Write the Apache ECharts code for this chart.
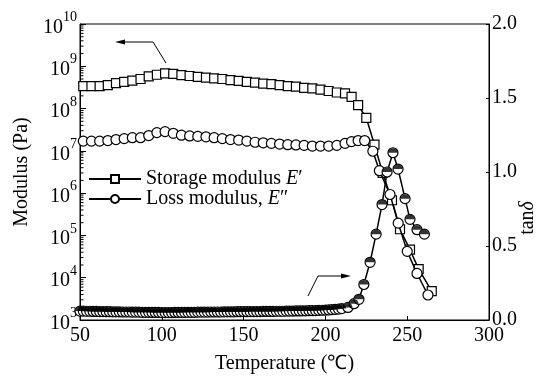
<!DOCTYPE html>
<html>
<head>
<meta charset="utf-8">
<script src="https://cdn.jsdelivr.net/npm/echarts@6/dist/echarts.min.js"></script>
<style>
html, body { margin: 0; background: #fff; }
#chart { width: 546px; height: 379px; }
</style>
</head>
<body>
<div id="chart"></div>
<script>
// storage modulus E' (squares, left log axis)
const storageTemp = [52, 57, 62, 67, 72, 77, 82, 87, 92, 97, 102, 107, 112, 117, 122, 127, 132, 137, 142, 147,
    152, 157, 162, 167, 172, 177, 182, 187, 192, 197, 202, 207, 212, 216, 220, 225, 230, 235, 240.7, 245.6, 251.7, 257, 265];
const storageMod = [3.4e8, 3.4e8, 3.4e8, 3.6e8, 4.0e8, 4.3e8, 4.6e8, 5.0e8, 5.8e8, 6.3e8, 6.8e8, 6.6e8, 6.2e8, 5.9e8, 5.6e8, 5.4e8, 5.2e8, 5.0e8, 4.7e8, 4.5e8,
    4.3e8, 4.1e8, 3.9e8, 3.8e8, 3.6e8, 3.4e8, 3.3e8, 3.1e8, 3.0e8, 2.8e8, 2.6e8, 2.4e8, 2.3e8, 1.9e8, 1.2e8, 6e7, 1.4e7, 3e6, 6.8e5, 1.4e5, 4.6e4, 1.6e4, 4.8e3];

// loss modulus E'' (open circles, left log axis)
const lossTemp = [52, 57, 62, 67, 72, 77, 82, 87, 92, 97, 102, 107, 112, 117, 122, 127, 132, 137, 142, 147,
    152, 157, 162, 167, 172, 177, 182, 187, 192, 197, 202, 207, 212, 216, 220, 224, 229, 233, 239.5, 244.5, 250, 256, 262.7];
const lossMod = [1.7e7, 1.7e7, 1.7e7, 1.75e7, 1.85e7, 1.95e7, 2.05e7, 2.05e7, 2.3e7, 2.7e7, 2.85e7, 2.6e7, 2.35e7, 2.25e7, 2.2e7, 2.15e7, 2.05e7, 1.95e7, 1.85e7, 1.8e7,
    1.7e7, 1.6e7, 1.55e7, 1.5e7, 1.45e7, 1.4e7, 1.38e7, 1.35e7, 1.3e7, 1.3e7, 1.3e7, 1.35e7, 1.5e7, 1.65e7, 1.75e7, 1.75e7, 9.8e6, 3.4e6, 9.3e5, 1.95e5, 4.2e4, 1.26e4, 3.9e3];

// tan delta (half filled circles, right axis)
const tanTemp = [50, 52, 54, 56, 58, 60, 62, 64, 66, 68, 70, 72, 74, 76, 78, 80, 82, 84, 86, 88,
    90, 92, 94, 96, 98, 100, 102, 104, 106, 108, 110, 112, 114, 116, 118, 120, 122, 124, 126, 128,
    130, 132, 134, 136, 138, 140, 142, 144, 146, 148, 150, 152, 154, 156, 158, 160, 162, 164, 166, 168,
    170, 172, 174, 176, 178, 180, 182, 184, 186, 188, 190, 192, 194, 196, 198, 200, 202, 204, 206, 208, 210,
    213.8, 217.5, 220.5, 223.5, 227.3, 231, 234.6, 237.7, 241.3, 244.4, 248.7, 251.7, 256, 260.5];
const tanDelta = [0.060, 0.060, 0.059, 0.059, 0.058, 0.058, 0.057, 0.057, 0.056, 0.056, 0.055, 0.055, 0.055, 0.054, 0.054, 0.054, 0.053, 0.053, 0.053, 0.052,
    0.052, 0.052, 0.051, 0.051, 0.051, 0.050, 0.050, 0.050, 0.050, 0.051, 0.051, 0.051, 0.052, 0.052, 0.052, 0.052, 0.053, 0.053, 0.053, 0.053,
    0.054, 0.054, 0.054, 0.054, 0.055, 0.055, 0.055, 0.055, 0.056, 0.056, 0.056, 0.056, 0.057, 0.057, 0.057, 0.057, 0.058, 0.058, 0.058, 0.058,
    0.059, 0.059, 0.059, 0.060, 0.060, 0.060, 0.061, 0.061, 0.062, 0.062, 0.063, 0.063, 0.064, 0.065, 0.066, 0.067, 0.068, 0.070, 0.072, 0.074, 0.077,
    0.085, 0.11, 0.14, 0.24, 0.39, 0.58, 0.78, 1.0, 1.13, 1.02, 0.82, 0.68, 0.61, 0.58];

const font = "Liberation Serif";
const black = "#000";

function pairs(xs, ys) {
    return xs.map((x, i) => [x, ys[i]]);
}

// minor ticks of the log axis (2..9 in each decade)
const minorTicks = [];
for (let d = 3; d < 10; d++) {
    for (let m = 2; m < 10; m++) {
        minorTicks.push([50, m * Math.pow(10, d)]);
    }
}

const chart = echarts.init(document.getElementById("chart"));
chart.setOption({
    backgroundColor: "#fff",
    animation: false,
    grid: {
        left: 80,
        right: 57,
        top: 24,
        bottom: 55,
        show: true,
        borderColor: black,
        borderWidth: 1
    },
    legend: {
        data: ["Storage modulus E′", "Loss modulus, E″"],
        orient: "vertical",
        left: 88,
        top: 169,
        itemWidth: 52,
        itemHeight: 10,
        itemGap: 0,
        padding: 0,
        textStyle: {
            fontFamily: font,
            fontSize: 20,
            color: black,
            lineHeight: 19,
            rich: {
                i: { fontFamily: font, fontSize: 20, fontStyle: "italic", color: black, lineHeight: 19 }
            }
        },
        formatter: name => name.slice(0, -2) + "{i|E}" + name.slice(-1)
    },
    xAxis: {
        type: "value",
        min: 50,
        max: 300,
        interval: 50,
        name: "Temperature (℃)",
        nameLocation: "middle",
        nameGap: 34,
        nameTextStyle: { fontFamily: font, fontSize: 20, color: black },
        axisLine: { lineStyle: { color: black, width: 1 } },
        axisTick: { inside: true, length: 4, lineStyle: { color: black } },
        axisLabel: { fontFamily: font, fontSize: 20, color: black, margin: 6 },
        splitLine: { show: false }
    },
    yAxis: [
        {
            type: "log",
            logBase: 10,
            min: 1e3,
            max: 1e10,
            position: "left",
            name: "Modulus (Pa)",
            nameLocation: "middle",
            nameGap: 47,
            nameTextStyle: { fontFamily: font, fontSize: 20, color: black },
            axisLine: { show: true, lineStyle: { color: black, width: 1 } },
            axisTick: { inside: true, length: 6, lineStyle: { color: black } },
            axisLabel: {
                margin: 3,
                formatter: v => "{b|10}{s|" + Math.round(Math.log10(v)) + "}",
                rich: {
                    b: { fontFamily: font, fontSize: 20, color: black, lineHeight: 27, verticalAlign: "bottom" },
                    s: { fontFamily: font, fontSize: 14, color: black, verticalAlign: "top" }
                }
            },
            splitLine: { show: false }
        },
        {
            type: "value",
            min: 0,
            max: 2,
            interval: 0.5,
            position: "right",
            axisLine: { show: true, lineStyle: { color: black, width: 1 } },
            axisTick: { inside: true, length: 3, lineStyle: { color: black } },
            axisLabel: {
                fontFamily: font, fontSize: 20, color: black, margin: 3,
                formatter: v => v.toFixed(1)
            },
            splitLine: { show: false }
        }
    ],
    graphic: [
        {
            type: "text",
            x: 528,
            y: 218,
            rotation: Math.PI / 2,
            style: {
                text: "tan{i|δ}",
                font: "20px " + font,
                fill: black,
                align: "center",
                verticalAlign: "middle",
                rich: { i: { fontFamily: font, fontSize: 20, fontStyle: "italic", fill: black } }
            }
        },
        { type: "polyline", shape: { points: [[166, 63], [153, 42], [123, 42]] }, style: { stroke: black, lineWidth: 1, fill: null } },
        { type: "polygon", shape: { points: [[115, 42], [125, 39.5], [125, 44.5]] }, style: { fill: black } },
        { type: "polyline", shape: { points: [[308, 296], [318, 276], [342, 276]] }, style: { stroke: black, lineWidth: 1, fill: null } },
        { type: "polygon", shape: { points: [[351, 276], [341, 273.5], [341, 278.5]] }, style: { fill: black } }
    ],
    series: [
        {
            name: "Storage modulus E′",
            type: "line",
            yAxisIndex: 0,
            data: pairs(storageTemp, storageMod),
            symbol: "rect",
            symbolSize: 9,
            showAllSymbol: true,
            lineStyle: { color: black, width: 1.5 },
            itemStyle: { color: "#fff", borderColor: black, borderWidth: 1.2 },
            z: 3
        },
        {
            name: "Loss modulus, E″",
            type: "line",
            yAxisIndex: 0,
            data: pairs(lossTemp, lossMod),
            symbol: "circle",
            symbolSize: 10,
            showAllSymbol: true,
            lineStyle: { color: black, width: 1.5 },
            itemStyle: { color: "#fff", borderColor: black, borderWidth: 1.2 },
            z: 4
        },
        {
            name: "tanδ",
            type: "line",
            yAxisIndex: 1,
            data: pairs(tanTemp, tanDelta),
            symbol: "circle",
            symbolSize: 10,
            showAllSymbol: true,
            lineStyle: { color: black, width: 1.5 },
            itemStyle: { color: "#fff", borderColor: black, borderWidth: 1.2 },
            z: 5
        },
        {
            name: "tanδ top",
            type: "scatter",
            yAxisIndex: 1,
            data: pairs(tanTemp, tanDelta),
            symbol: "path://M0,10A10,10,0,0,1,20,10Z",
            symbolSize: [9, 4.5],
            symbolOffset: [0, -2.25],
            itemStyle: { color: black },
            silent: true,
            z: 6
        },
        {
            name: "minor ticks",
            type: "custom",
            yAxisIndex: 0,
            data: minorTicks,
            silent: true,
            clip: false,
            renderItem: (params, api) => {
                const p = api.coord([api.value(0), api.value(1)]);
                return {
                    type: "line",
                    shape: { x1: p[0], y1: p[1], x2: p[0] + 3.5, y2: p[1] },
                    style: { stroke: black, lineWidth: 1 }
                };
            },
            z: 2
        }
    ]
});
</script>
</body>
</html>
